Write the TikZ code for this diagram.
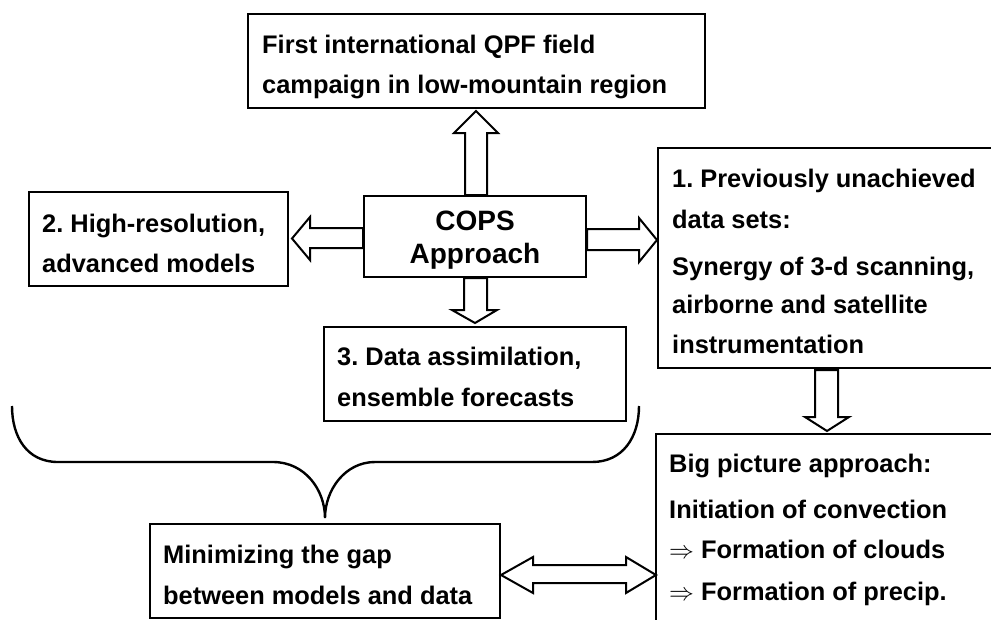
\documentclass[tikz,border=0pt]{standalone}
\usepackage{fontspec}
\setmainfont{Liberation Sans}
\frenchspacing
\begin{document}
\begin{tikzpicture}[x=1pt,y=-1pt,
  box/.style={draw,line width=2.2pt,minimum width=#1,inner sep=0pt},
  txt/.style={anchor=base west,inner sep=0pt,font=\fontsize{25.4}{28}\selectfont\bfseries},
  cops/.style={anchor=base,inner sep=0pt,font=\fontsize{28}{30}\selectfont\bfseries},
  barrow/.style={draw,line width=2pt,fill=white,line join=miter},
  brace/.style={draw,line width=2.4pt}]
\useasboundingbox (0,0) rectangle (991,619);
% boxes
\node[box=457pt,minimum height=94pt] (topbox) at (476.5,61) {};
\node[box=259pt,minimum height=94pt] (hires) at (158.5,239) {};
\node[box=222pt,minimum height=81pt] (copsbox) at (475,236.5) {};
\node[box=342pt,minimum height=220pt] (data) at (829,258) {};
\node[box=302pt,minimum height=94pt] (assim) at (475,374) {};
\node[box=350pt,minimum height=94pt] (gap) at (325,571) {};
\node[box=344pt,minimum height=206pt] (big) at (828,537) {};
% texts
\node[txt] (t1) at (262,53) {First international QPF field};
\node[txt] (t2) at (262,93) {campaign in low-mountain region};
\node[txt] (h1) at (42,232) {2. High-resolution,};
\node[txt] (h2) at (42,272) {advanced models};
\node[cops] (c1) at (475,230) {COPS};
\node[cops] (c2) at (475,263) {Approach};
\node[txt] (d1) at (672,187) {1. Previously unachieved};
\node[txt] (d2) at (672,228) {data sets:};
\node[txt] (d3) at (672,275) {Synergy of 3-d scanning,};
\node[txt] (d4) at (672,313) {airborne and satellite};
\node[txt] (d5) at (672,353) {instrumentation};
\node[txt] (a1) at (337,365) {3. Data assimilation,};
\node[txt] (a2) at (337,406) {ensemble forecasts};
\node[txt] (g1) at (163,563) {Minimizing the gap};
\node[txt] (g2) at (163,604) {between models and data};
\node[txt] (b1) at (669,472) {Big picture approach:};
\node[txt] (b2) at (669,518) {Initiation of convection};
\node[txt] (b3) at (669,558) {$\Rightarrow$ Formation of clouds};
\node[txt] (b4) at (669,600) {$\Rightarrow$ Formation of precip.};
% block arrows
\draw[barrow] (465,195) -- (465,133) -- (454,133) -- (476,111) -- (498,133) -- (487,133) -- (487,195) -- cycle;
\draw[barrow] (363,228) -- (310,228) -- (310,217) -- (292,238.5) -- (310,260) -- (310,248) -- (363,248) -- cycle;
\draw[barrow] (587,229) -- (639,229) -- (639,218) -- (657,240) -- (639,262) -- (639,250) -- (587,250) -- cycle;
\draw[barrow] (464,278) -- (464,310) -- (452,310) -- (475,323) -- (497,310) -- (487,310) -- (487,278) -- cycle;
\draw[barrow] (815,370) -- (815,417) -- (805,417) -- (827,431) -- (849,417) -- (838,417) -- (838,370) -- cycle;
\draw[barrow] (501,575) -- (533,557) -- (533,565) -- (626,565) -- (626,557) -- (656,575) -- (626,593) -- (626,583) -- (533,583) -- (533,593) -- cycle;
% brace
\draw[brace] (12,406) .. controls (12,437) and (27,462) .. (58,462) -- (273,462)
  .. controls (305,462) and (325,490) .. (325,518)
  .. controls (325,490) and (345,462) .. (375,462) -- (592,462)
  .. controls (623,462) and (639,437) .. (639,406);
\end{tikzpicture}
\end{document}
